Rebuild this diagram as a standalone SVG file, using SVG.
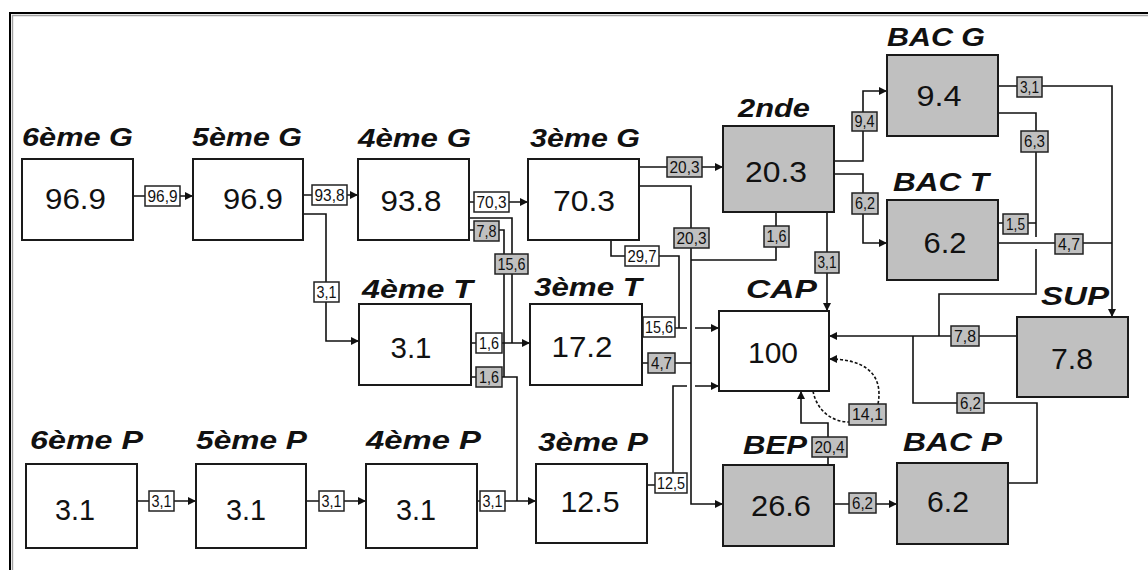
<svg xmlns="http://www.w3.org/2000/svg" width="1148" height="570" viewBox="0 0 1148 570">
<defs>
<marker id="ar" markerUnits="userSpaceOnUse" markerWidth="9" markerHeight="8" refX="8" refY="4" orient="auto">
<path d="M0,0 L8,4 L0,8 z" fill="#111"/>
</marker>
<style>
.box{fill:#fff;stroke:#1a1a1a;stroke-width:2}
.gbox{fill:#c0c0c0;stroke:#1a1a1a;stroke-width:2}
.lbl{font-family:"Liberation Sans",Arial,sans-serif;font-size:25px;font-style:italic;font-weight:bold;fill:#111}
.val{font-family:"Liberation Sans",Arial,sans-serif;font-size:29px;fill:#111;text-anchor:middle}
.c{fill:none;stroke:#111;stroke-width:1.6}
.a{marker-end:url(#ar)}
.d{stroke-dasharray:3,2}
.el{fill:#fff;stroke:#222;stroke-width:1.5}
.gel{fill:#c0c0c0;stroke:#222;stroke-width:1.5}
.et{font-family:"Liberation Sans",Arial,sans-serif;font-size:17px;fill:#111;text-anchor:middle}
</style>
</defs>
<rect x="0" y="0" width="1148" height="570" fill="#fff"/>
<path d="M10,570 V13 H1148" fill="none" stroke="#000" stroke-width="2"/>
<path d="M12.5,570 V15.5 H1148" fill="none" stroke="#a0a0a0" stroke-width="1.4"/>

<g id="connectors">
<path class="c a" d="M133,196 H193"/>
<path class="c a" d="M303,195 H358"/>
<path class="c a" d="M303,214 H326 V341 H359"/>
<path class="c a" d="M469,202 H528"/>
<path class="c" d="M469,218 H512 V343"/>
<path class="c" d="M469,230 H504 V377"/>
<path class="c a" d="M471,343 H530"/>
<path class="c" d="M471,377 H517 V501"/>
<path class="c a" d="M477,501 H536"/>
<path class="c a" d="M137,501 H196"/>
<path class="c a" d="M306,501 H366"/>
<path class="c a" d="M639,167 H723"/>
<path class="c a" d="M639,186 H691 V504 H723"/>
<path class="c" d="M611,240 V256 H679 V328"/>
<path class="c a" d="M642,328 H687 M695,328 H719"/>
<path class="c" d="M642,363 H691"/>
<path class="c a" d="M647,485 H673 V386 H687 M695,386 H719"/>
<path class="c" d="M776,212 V260 H691"/>
<path class="c a" d="M827,212 V311"/>
<path class="c a" d="M834,161 H863 V91 H887"/>
<path class="c a" d="M834,174 H863 V243 H887"/>
<path class="c a" d="M998,86 H1112 V317"/>
<path class="c" d="M998,113 H1036 V237 M1036,249 V294 H939 V336"/>
<path class="c" d="M998,223 H1036"/>
<path class="c" d="M998,243 H1112"/>
<path class="c a" d="M1017,336 H829"/>
<path class="c" d="M1008,483 H1037 V403 H913 V336"/>
<path class="c a" d="M828,465 V423 H801 V391"/>
<path class="c a" d="M834,504 H897"/>
<path class="c d" d="M813,391 C817,411 832,422 849,422"/>
<path class="c d a" d="M878,404 C884,372 862,359 829,359"/>

<rect class="el" x="145" y="186" width="35" height="20"/><text class="et" x="162.5" y="202" textLength="30" lengthAdjust="spacingAndGlyphs">96,9</text>
<rect class="el" x="312" y="185" width="35" height="20"/><text class="et" x="329.5" y="201" textLength="30" lengthAdjust="spacingAndGlyphs">93,8</text>
<rect class="el" x="314" y="282" width="25" height="20"/><text class="et" x="326.5" y="298" textLength="20" lengthAdjust="spacingAndGlyphs">3,1</text>
<rect class="el" x="474" y="192" width="35" height="20"/><text class="et" x="491.5" y="208" textLength="30" lengthAdjust="spacingAndGlyphs">70,3</text>
<rect class="gel" x="495" y="254" width="33" height="20"/><text class="et" x="511.5" y="270" textLength="28" lengthAdjust="spacingAndGlyphs">15,6</text>
<rect class="gel" x="474" y="221" width="25" height="20"/><text class="et" x="486.5" y="237" textLength="20" lengthAdjust="spacingAndGlyphs">7,8</text>
<rect class="el" x="476" y="333" width="26" height="20"/><text class="et" x="489" y="349" textLength="20" lengthAdjust="spacingAndGlyphs">1,6</text>
<rect class="gel" x="476" y="367" width="26" height="20"/><text class="et" x="489" y="383" textLength="20" lengthAdjust="spacingAndGlyphs">1,6</text>
<rect class="el" x="480" y="491" width="25" height="20"/><text class="et" x="492.5" y="507" textLength="20" lengthAdjust="spacingAndGlyphs">3,1</text>
<rect class="el" x="149" y="491" width="25" height="20"/><text class="et" x="161.5" y="507" textLength="20" lengthAdjust="spacingAndGlyphs">3,1</text>
<rect class="el" x="319" y="491" width="25" height="20"/><text class="et" x="331.5" y="507" textLength="20" lengthAdjust="spacingAndGlyphs">3,1</text>
<rect class="gel" x="667" y="157" width="35" height="20"/><text class="et" x="684.5" y="173" textLength="30" lengthAdjust="spacingAndGlyphs">20,3</text>
<rect class="gel" x="674" y="228" width="35" height="20"/><text class="et" x="691.5" y="244" textLength="30" lengthAdjust="spacingAndGlyphs">20,3</text>
<rect class="el" x="625" y="246" width="34" height="20"/><text class="et" x="642" y="262" textLength="29" lengthAdjust="spacingAndGlyphs">29,7</text>
<rect class="el" x="643" y="317" width="32" height="20"/><text class="et" x="659" y="333" textLength="28" lengthAdjust="spacingAndGlyphs">15,6</text>
<rect class="gel" x="648" y="353" width="27" height="20"/><text class="et" x="661.5" y="369" textLength="21" lengthAdjust="spacingAndGlyphs">4,7</text>
<rect class="el" x="655" y="473" width="32" height="20"/><text class="et" x="671" y="489" textLength="28" lengthAdjust="spacingAndGlyphs">12,5</text>
<rect class="gel" x="764" y="226" width="25" height="21"/><text class="et" x="776.5" y="242" textLength="20" lengthAdjust="spacingAndGlyphs">1,6</text>
<rect class="gel" x="815" y="252" width="24" height="21"/><text class="et" x="827" y="268" textLength="19" lengthAdjust="spacingAndGlyphs">3,1</text>
<rect class="gel" x="852" y="112" width="25" height="19"/><text class="et" x="864.5" y="127" textLength="20" lengthAdjust="spacingAndGlyphs">9,4</text>
<rect class="gel" x="852" y="193" width="26" height="21"/><text class="et" x="865" y="209" textLength="20" lengthAdjust="spacingAndGlyphs">6,2</text>
<rect class="gel" x="1017" y="77" width="25" height="20"/><text class="et" x="1029.5" y="93" textLength="19" lengthAdjust="spacingAndGlyphs">3,1</text>
<rect class="gel" x="1021" y="131" width="27" height="21"/><text class="et" x="1034.5" y="147" textLength="21" lengthAdjust="spacingAndGlyphs">6,3</text>
<rect class="gel" x="1003" y="214" width="25" height="20"/><text class="et" x="1015.5" y="230" textLength="19" lengthAdjust="spacingAndGlyphs">1,5</text>
<rect class="gel" x="1055" y="234" width="28" height="20"/><text class="et" x="1069" y="250" textLength="22" lengthAdjust="spacingAndGlyphs">4,7</text>
<rect class="gel" x="951" y="326" width="28" height="20"/><text class="et" x="965" y="342" textLength="22" lengthAdjust="spacingAndGlyphs">7,8</text>
<rect class="gel" x="957" y="393" width="27" height="20"/><text class="et" x="970.5" y="409" textLength="21" lengthAdjust="spacingAndGlyphs">6,2</text>
<rect class="gel" x="812" y="437" width="35" height="20"/><text class="et" x="829.5" y="453" textLength="30" lengthAdjust="spacingAndGlyphs">20,4</text>
<rect class="gel" x="849" y="493" width="27" height="20"/><text class="et" x="862.5" y="509" textLength="21" lengthAdjust="spacingAndGlyphs">6,2</text>
<rect class="gel" x="849" y="404" width="37" height="21"/><text class="et" x="867.5" y="420" textLength="31" lengthAdjust="spacingAndGlyphs">14,1</text>
</g>

<g id="n6G"><rect class="box" x="22" y="159" width="111" height="81"/><text class="lbl" x="22" y="146" textLength="111" lengthAdjust="spacingAndGlyphs">6ème G</text><text class="val" x="75.5" y="209" textLength="61" lengthAdjust="spacingAndGlyphs">96.9</text></g>
<g id="n5G"><rect class="box" x="193" y="159" width="110" height="81"/><text class="lbl" x="192" y="146" textLength="110" lengthAdjust="spacingAndGlyphs">5ème G</text><text class="val" x="253" y="209" textLength="60" lengthAdjust="spacingAndGlyphs">96.9</text></g>
<g id="n4G"><rect class="box" x="358" y="159" width="111" height="81"/><text class="lbl" x="358" y="147" textLength="113" lengthAdjust="spacingAndGlyphs">4ème G</text><text class="val" x="411" y="211" textLength="61" lengthAdjust="spacingAndGlyphs">93.8</text></g>
<g id="n3G"><rect class="box" x="528" y="159" width="111" height="81"/><text class="lbl" x="530" y="147" textLength="110" lengthAdjust="spacingAndGlyphs">3ème G</text><text class="val" x="584" y="211" textLength="62" lengthAdjust="spacingAndGlyphs">70.3</text></g>
<g id="n2nde"><rect class="gbox" x="723" y="126" width="111" height="86"/><text class="lbl" x="738" y="117" textLength="72" lengthAdjust="spacingAndGlyphs">2nde</text><text class="val" x="776" y="182" textLength="62" lengthAdjust="spacingAndGlyphs">20.3</text></g>
<g id="nBACG"><rect class="gbox" x="887" y="55" width="111" height="81"/><text class="lbl" x="887" y="46" textLength="98" lengthAdjust="spacingAndGlyphs">BAC G</text><text class="val" x="939" y="106" textLength="45" lengthAdjust="spacingAndGlyphs">9.4</text></g>
<g id="nBACT"><rect class="gbox" x="887" y="200" width="111" height="80"/><text class="lbl" x="893" y="191" textLength="96" lengthAdjust="spacingAndGlyphs">BAC T</text><text class="val" x="945" y="253" textLength="43" lengthAdjust="spacingAndGlyphs">6.2</text></g>
<g id="n4T"><rect class="box" x="359" y="304" width="112" height="81"/><text class="lbl" x="362" y="298" textLength="111" lengthAdjust="spacingAndGlyphs">4ème T</text><text class="val" x="411" y="358" textLength="41" lengthAdjust="spacingAndGlyphs">3.1</text></g>
<g id="n3T"><rect class="box" x="530" y="304" width="112" height="81"/><text class="lbl" x="534" y="296" textLength="108" lengthAdjust="spacingAndGlyphs">3ème T</text><text class="val" x="582" y="357" textLength="61" lengthAdjust="spacingAndGlyphs">17.2</text></g>
<g id="nCAP"><rect class="box" x="719" y="311" width="110" height="80"/><text class="lbl" x="746" y="298" textLength="71" lengthAdjust="spacingAndGlyphs">CAP</text><text class="val" x="773" y="363" textLength="50" lengthAdjust="spacingAndGlyphs">100</text></g>
<g id="nSUP"><rect class="gbox" x="1017" y="317" width="111" height="80"/><text class="lbl" x="1041" y="305" textLength="68" lengthAdjust="spacingAndGlyphs">SUP</text><text class="val" x="1072" y="369" textLength="42" lengthAdjust="spacingAndGlyphs">7.8</text></g>
<g id="n6P"><rect class="box" x="26" y="464" width="111" height="84"/><text class="lbl" x="30" y="449" textLength="113" lengthAdjust="spacingAndGlyphs">6ème P</text><text class="val" x="75" y="520" textLength="40" lengthAdjust="spacingAndGlyphs">3.1</text></g>
<g id="n5P"><rect class="box" x="196" y="464" width="110" height="84"/><text class="lbl" x="196" y="449" textLength="111" lengthAdjust="spacingAndGlyphs">5ème P</text><text class="val" x="246" y="520" textLength="40" lengthAdjust="spacingAndGlyphs">3.1</text></g>
<g id="n4P"><rect class="box" x="366" y="464" width="111" height="84"/><text class="lbl" x="366" y="449" textLength="115" lengthAdjust="spacingAndGlyphs">4ème P</text><text class="val" x="416" y="520" textLength="40" lengthAdjust="spacingAndGlyphs">3.1</text></g>
<g id="n3P"><rect class="box" x="536" y="464" width="111" height="79"/><text class="lbl" x="538" y="451" textLength="110" lengthAdjust="spacingAndGlyphs">3ème P</text><text class="val" x="590" y="512" textLength="59" lengthAdjust="spacingAndGlyphs">12.5</text></g>
<g id="nBEP"><rect class="gbox" x="723" y="465" width="111" height="81"/><text class="lbl" x="743" y="454" textLength="64" lengthAdjust="spacingAndGlyphs">BEP</text><text class="val" x="781" y="516" textLength="60" lengthAdjust="spacingAndGlyphs">26.6</text></g>
<g id="nBACP"><rect class="gbox" x="897" y="463" width="111" height="81"/><text class="lbl" x="903" y="451" textLength="99" lengthAdjust="spacingAndGlyphs">BAC P</text><text class="val" x="948" y="512" textLength="42" lengthAdjust="spacingAndGlyphs">6.2</text></g>
</svg>
